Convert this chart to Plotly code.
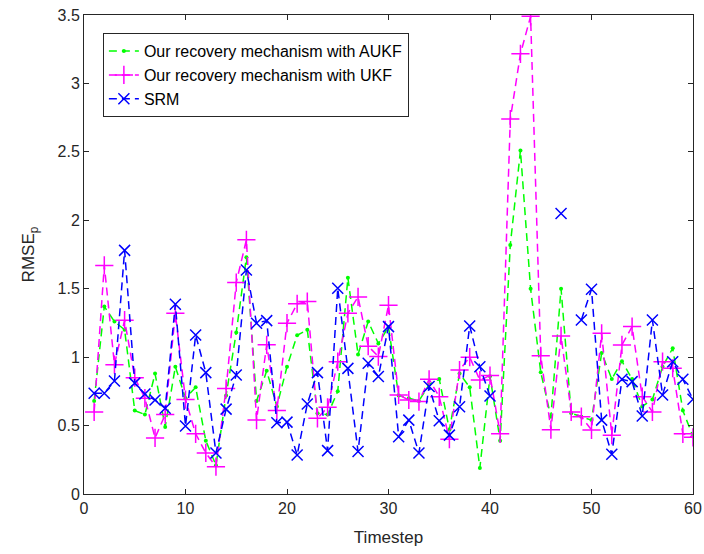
import plotly.graph_objects as go

timestep = list(range(1, 61))

aukf = [0.68, 1.37, 1.26, 1.20, 0.61, 0.58, 0.88, 0.49, 0.93, 0.70,
        0.78, 0.39, 0.21, 0.72, 1.18, 1.73, 0.68, 0.90, 0.64, 0.93,
        1.16, 1.20, 0.59, 0.58, 0.75, 1.58, 1.02, 1.26, 1.10, 1.22,
        0.72, 0.70, 0.68, 0.80, 0.84, 0.47, 0.88, 0.78, 0.19, 0.86,
        0.39, 1.82, 2.51, 1.50, 0.89, 0.565, 1.50, 0.59, 0.565, 0.54,
        1.03, 0.84, 0.97, 0.84, 0.64, 0.69, 0.93, 1.065, 0.61, 0.42]

ukf = [0.60, 1.67, 0.945, 1.27, 0.85, 0.70, 0.41, 0.58, 1.32, 0.69,
       0.44, 0.30, 0.20, 0.77, 1.545, 1.857, 0.54, 1.09, 0.61, 1.248,
       1.39, 1.406, 0.553, 0.634, 0.967, 1.32, 1.44, 1.08, 1.004, 1.38,
       0.724, 0.687, 0.675, 0.838, 0.71, 0.40, 0.906, 1.00, 0.833, 0.865,
       0.44, 2.74, 3.216, 3.49, 1.01, 0.47, 1.155, 0.60, 0.565, 0.468,
       1.174, 0.43, 1.089, 1.223, 0.711, 0.60, 0.967, 0.919, 0.44, 0.414]

srm = [0.736, 0.736, 0.826, 1.78, 0.81, 0.73, 0.687, 0.626, 1.387, 0.497,
       1.162, 0.887, 0.30, 0.62, 0.87, 1.637, 1.248, 1.267, 0.52, 0.525,
       0.285, 0.658, 0.887, 0.317, 1.503, 0.918, 0.31, 0.955, 0.858, 1.223,
       0.419, 0.54, 0.30, 0.785, 0.535, 0.43, 0.638, 1.228, 0.93, 0.716,
       None, None, None, None, None, None, 2.05, None, 1.272, 1.496,
       0.54, 0.29, 0.838, 0.821, 0.57, 1.272, 0.724, 0.967, 0.838, 0.692]

names = ["Our recovery mechanism with AUKF",
         "Our recovery mechanism with UKF",
         "SRM"]

x_ticks = [0, 10, 20, 30, 40, 50, 60]
y_ticks = [0, 0.5, 1, 1.5, 2, 2.5, 3, 3.5]
y_ticklabels = ["0", "0.5", "1", "1.5", "2", "2.5", "3", "3.5"]

FONT = "Liberation Sans, Arial, sans-serif"
DASH = "8px,5px"

fig = go.Figure()
fig.add_trace(go.Scatter(
    x=timestep, y=aukf, name=names[0], mode="lines+markers",
    line=dict(color="#00FF00", width=1.5, dash=DASH),
    marker=dict(symbol="circle", size=4, color="#00FF00"),
))
fig.add_trace(go.Scatter(
    x=timestep, y=ukf, name=names[1], mode="lines+markers",
    line=dict(color="#FF00FF", width=1.5, dash=DASH),
    marker=dict(symbol="cross-thin", size=13, color="#FF00FF",
                line=dict(color="#FF00FF", width=1.5)),
))
fig.add_trace(go.Scatter(
    x=timestep, y=srm, name=names[2], mode="lines+markers",
    connectgaps=False,
    line=dict(color="#0000FF", width=1.5, dash=DASH),
    marker=dict(symbol="x-thin", size=11, color="#0000FF",
                line=dict(color="#0000FF", width=1.5)),
))

axis_common = dict(
    showgrid=False, zeroline=False, showline=True, linecolor="#262626",
    linewidth=1, mirror="ticks", ticks="inside", ticklen=5,
    tickcolor="#262626", automargin=False,
    tickfont=dict(family=FONT, size=16, color="#262626"),
)

fig.update_layout(
    width=704, height=554,
    margin=dict(l=84, r=11, t=15, b=60),
    paper_bgcolor="white", plot_bgcolor="white",
    font=dict(family=FONT, color="#262626"),
    xaxis=dict(range=[0, 60], tickvals=x_ticks,
               title=dict(text="Timestep", font=dict(family=FONT, size=17, color="#262626"),
                          standoff=14),
               **axis_common),
    yaxis=dict(range=[0, 3.5], tickvals=y_ticks, ticktext=y_ticklabels,
               title=dict(text="RMSE<sub>p</sub>", font=dict(family=FONT, size=17, color="#262626"),
                          standoff=18),
               **axis_common),
    legend=dict(x=0.031, y=0.962, xanchor="left", yanchor="top",
                bgcolor="white", bordercolor="#262626", borderwidth=1,
                entrywidth=305, entrywidthmode="pixels",
                font=dict(family=FONT, size=16, color="#000000")),
    showlegend=True,
)

fig.write_html("out.html")
